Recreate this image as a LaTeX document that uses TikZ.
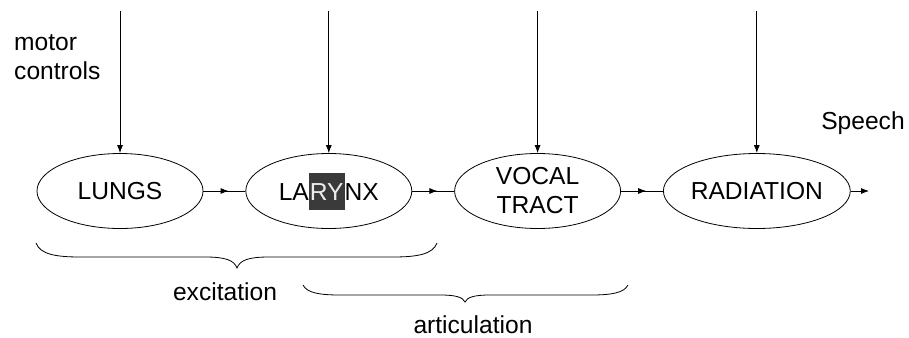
\documentclass[tikz,border=0pt]{standalone}
\usepackage{fontspec}
\setmainfont{Liberation Sans}
\usetikzlibrary{arrows.meta, shapes.geometric, positioning, decorations.markings}

\definecolor{markgray}{HTML}{3A3A3A}

\tikzset{
	organ/.style={draw, ellipse, line width=0.8pt, minimum width=166pt,
		minimum height=75pt, inner sep=0pt, align=center,
		font=\fontsize{24.6}{29}\selectfont},
	lbl/.style={inner sep=0pt, font=\fontsize{24.6}{29}\selectfont},
	flow/.style={line width=0.8pt, postaction={decorate},
		decoration={markings, mark=at position 0.6 with {\arrow{Latex[length=8pt,width=6pt]}}}},
	ctrl/.style={line width=0.8pt, -{Latex[length=8pt,width=6pt]}},
	curly/.style={line width=0.8pt}
}

\begin{document}
\begin{tikzpicture}[x=1pt, y=-1pt, node distance=42pt]
	\useasboundingbox (0,0) rectangle (909,337);

	\node (lungs) [organ] at (120,191) {LUNGS};
	\node (larynx) [organ, right=of lungs] {LA{\setlength{\fboxsep}{0pt}\colorbox{markgray}{\kern1pt\color{gray!15}\rule[-9pt]{0pt}{37pt}RY\kern1pt}}NX};
	\node (vocal) [organ, right=of larynx] {VOCAL\\TRACT};
	\node (radiation) [organ, right=of vocal] {RADIATION};

	\node (motor) [lbl, align=left, anchor=west] at (14,57) {motor\\controls};
	\node (speech) [lbl] at (863,123) {Speech};
	\node (excitation) [lbl] at (225,292) {excitation};
	\node (articulation) [lbl] at (473,325) {articulation};

	% control lines from the top
	\foreach \n in {lungs, larynx, vocal, radiation} {
		\coordinate (\n-ctl) at (\n.north |- 0,11);
		\draw [ctrl] (\n-ctl) -- (\n.north);
	}

	\draw [flow] (lungs) -- (larynx);
	\draw [flow] (larynx) -- (vocal);
	\draw [flow] (vocal) -- (radiation);
	\coordinate (out) at (869,191);
	\draw [ctrl] (radiation) -- (out);

	% braces under the chain
	\draw [curly] (36,243) .. controls (40,254) and (55,257) .. (80,257) -- (205,257)
		.. controls (225,257) and (234,260) .. (237,268)
		.. controls (240,260) and (249,257) .. (269,257) -- (393,257)
		.. controls (418,257) and (433,254) .. (437,243);
	\draw [curly] (303,285) .. controls (307,293) and (320,295) .. (340,295) -- (440,295)
		.. controls (455,295) and (463,297) .. (465,302)
		.. controls (467,297) and (475,295) .. (490,295) -- (591,295)
		.. controls (611,295) and (624,293) .. (628,285);
\end{tikzpicture}
\end{document}
